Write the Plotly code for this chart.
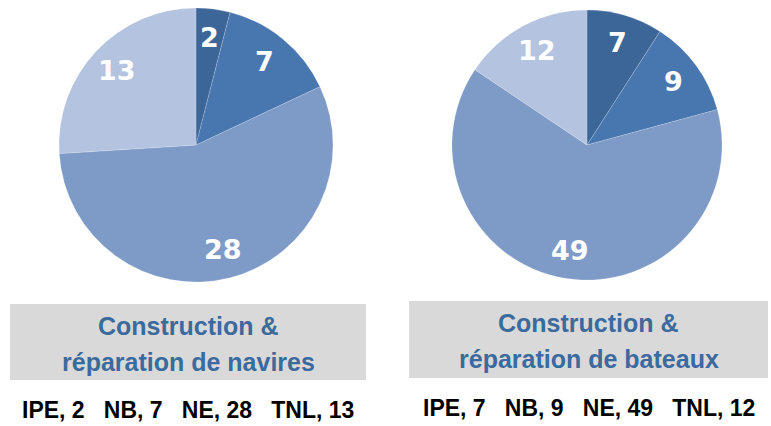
import math
import plotly.graph_objects as go

categories = ["IPE", "NB", "NE", "TNL"]
navires = [2, 7, 28, 13]
bateaux = [7, 9, 49, 12]
title_lines = [["Construction &", "réparation de navires"],
               ["Construction &", "réparation de bateaux"]]
colors = ["#3C6698", "#4877B0", "#7E9BC7", "#B4C3DF"]

W, H = 771, 426
FONT = "Liberation Sans, Arial, sans-serif"
LABEL_FONT = "DejaVu Sans, Verdana, sans-serif"
fig = go.Figure()


def px(x):
    return x / W


def py(y):
    return 1 - y / H


# pie geometry in pixels: (centre x, centre y, radius)
pies = [(196, 145, 137), (587, 145, 135)]
for vals, (cx, cy, r) in zip([navires, bateaux], pies):
    fig.add_trace(go.Pie(
        labels=categories, values=vals, sort=False, direction="clockwise", rotation=0,
        marker=dict(colors=colors, line=dict(color="rgba(255,255,255,0.35)", width=0.5)),
        textinfo="none",
        domain=dict(x=[px(cx - r), px(cx + r)], y=[py(cy + r), py(cy - r)]),
        showlegend=False, hoverinfo="label+value",
    ))
    total = sum(vals)
    cum = 0
    for v in vals:
        mid = (cum + v / 2) / total * 2 * math.pi
        cum += v
        lx = cx + 0.79 * r * math.sin(mid)
        ly = cy - 0.79 * r * math.cos(mid)
        fig.add_annotation(xref="paper", yref="paper", x=px(lx), y=py(ly), text=str(v),
                           showarrow=False, xanchor="center", yanchor="middle",
                           font=dict(family=LABEL_FONT, size=27, color="white", weight="bold"))

boxes = [(10, 304, 366, 380), (409, 301, 768, 378)]
legend_y = [410, 408]
for i, ((x0, y0, x1, y1), vals) in enumerate(zip(boxes, [navires, bateaux])):
    fig.add_shape(type="rect", xref="paper", yref="paper",
                  x0=px(x0), x1=px(x1), y0=py(y1), y1=py(y0),
                  fillcolor="#D9D9D9", line=dict(width=0), layer="below")
    for j, line in enumerate(title_lines[i]):
        fig.add_annotation(xref="paper", yref="paper", x=px((x0 + x1) / 2),
                           y=py(y0 + 22 + 36 * j), text=line, showarrow=False,
                           xanchor="center", yanchor="middle",
                           font=dict(family=FONT, size=25, color="#3B6A9F", weight="bold"))
    legend = "   ".join(f"{c}, {v}" for c, v in zip(categories, vals))
    fig.add_annotation(xref="paper", yref="paper", x=px((x0 + x1) / 2), y=py(legend_y[i]),
                       text=legend, showarrow=False, xanchor="center", yanchor="middle",
                       font=dict(family=FONT, size=23, color="black", weight="bold"))

fig.update_layout(width=W, height=H, margin=dict(l=0, r=0, t=0, b=0),
                  paper_bgcolor="white", plot_bgcolor="white")
fig.write_html("out.html", config={"displayModeBar": False},
               post_script="document.body.style.margin='0';")
